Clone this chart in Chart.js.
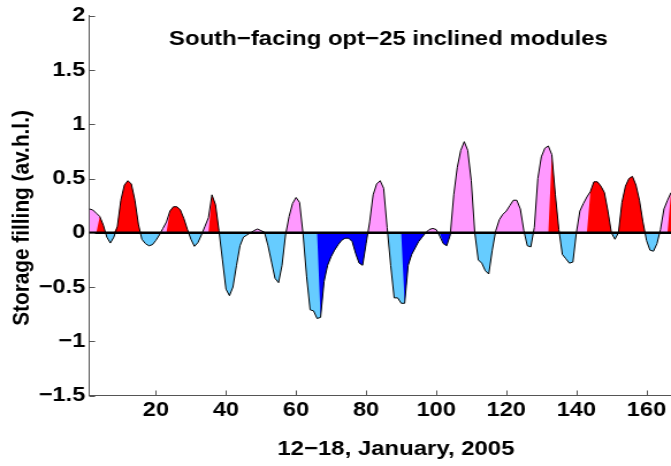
<!DOCTYPE html>
<html>
<head>
<meta charset="utf-8">
<script src="https://cdn.jsdelivr.net/npm/chart.js@4.4.1/dist/chart.umd.min.js"></script>
<style>
  html, body { margin: 0; padding: 0; background: #fff; overflow: hidden; }
  #wrap { width: 671px; height: 466px; overflow: hidden; }
  /* the reference figure is stretched sideways, so the canvas is too */
  #chart { transform: scaleX(1.1509); transform-origin: 0 0; }
</style>
</head>
<body>
<div id="wrap"><canvas id="chart" width="583" height="466"></canvas></div>
<script>
// hourly storage filling, 12-18 January 2005 (hour 1..168)
const storage = [
  0.22, 0.21, 0.18, 0.15, 0.07, -0.04, -0.095, -0.04, 0.06, 0.30,
  0.44, 0.48, 0.45, 0.30, 0.08, -0.06, -0.10, -0.12, -0.11, -0.07,
  -0.02, 0.04, 0.10, 0.20, 0.24, 0.24, 0.21, 0.13, 0.03, -0.06,
  -0.125, -0.09, -0.02, 0.06, 0.14, 0.35, 0.26, 0.02, -0.25, -0.52,
  -0.58, -0.50, -0.30, -0.12, -0.04, -0.02, 0.00, 0.02, 0.035, 0.02,
  0.005, -0.12, -0.27, -0.42, -0.46, -0.30, -0.02, 0.15, 0.27, 0.325,
  0.28, -0.01, -0.40, -0.71, -0.72, -0.79, -0.78, -0.45, -0.30, -0.22,
  -0.16, -0.11, -0.07, -0.05, -0.05, -0.08, -0.19, -0.28, -0.30, -0.10,
  0.10, 0.35, 0.45, 0.48, 0.41, 0.05, -0.30, -0.60, -0.60, -0.65,
  -0.65, -0.30, -0.20, -0.14, -0.08, -0.04, 0.00, 0.03, 0.04, 0.03,
  -0.03, -0.10, -0.12, -0.02, 0.35, 0.60, 0.76, 0.84, 0.76, 0.48,
  0.00, -0.25, -0.28, -0.35, -0.38, -0.16, 0.02, 0.12, 0.17, 0.20,
  0.25, 0.30, 0.30, 0.22, 0.02, -0.12, -0.13, 0.05, 0.50, 0.70,
  0.78, 0.80, 0.72, 0.35, 0.03, -0.20, -0.24, -0.28, -0.27, 0.00,
  0.20, 0.27, 0.33, 0.38, 0.47, 0.47, 0.43, 0.37, 0.20, 0.00,
  -0.06, 0.00, 0.28, 0.43, 0.50, 0.52, 0.44, 0.30, 0.10, -0.07,
  -0.16, -0.17, -0.10, 0.03, 0.22, 0.30, 0.37, 0.40
];
// hour spans drawn red (charging) and dark blue (discharging)
const redSpans = [[4, 6], [9, 16], [24, 30], [36, 39], [133, 136], [144, 150], [152, 160], [167, 168]];
const blueSpans = [[67, 81], [91, 98], [102, 105]];
const xTicks = [20, 40, 60, 80, 100, 120, 140, 160];
const yTicks = [-1.5, -1, -0.5, 0, 0.5, 1, 1.5, 2];
const chartTitle = 'South\u2212facing opt\u221225 inclined modules';
const xTitle = '12\u221218, January, 2005';
const yTitle = 'Storage filling (av.h.l.)';

const axisColor = '#555';
const font = { family: '"Liberation Sans", Arial, sans-serif', size: 20.5, weight: 'bold' };

const points = storage.map((v, i) => ({ x: i + 1, y: v }));
const inSpans = (h, spans) => spans.some(([a, b]) => h >= a && h <= b);
const redPart = points.map(p => ({ x: p.x, y: inSpans(p.x, redSpans) ? p.y : 0 }));
const bluePart = points.map(p => ({ x: p.x, y: inSpans(p.x, blueSpans) ? p.y : 0 }));

const decorations = {
  id: 'decorations',
  afterDatasetsDraw(chart) {
    const { ctx, chartArea, scales: { x, y } } = chart;
    ctx.save();
    // thick zero line
    const y0 = y.getPixelForValue(0);
    ctx.strokeStyle = '#000';
    ctx.lineWidth = 2.5;
    ctx.beginPath();
    ctx.moveTo(chartArea.left, y0);
    ctx.lineTo(chartArea.right, y0);
    ctx.stroke();
    // inward tick marks
    ctx.strokeStyle = axisColor;
    ctx.lineWidth = 1;
    ctx.beginPath();
    xTicks.forEach(v => {
      const px = Math.round(x.getPixelForValue(v)) + 0.5;
      ctx.moveTo(px, chartArea.bottom);
      ctx.lineTo(px, chartArea.bottom - 5);
    });
    yTicks.forEach(v => {
      const py = Math.round(y.getPixelForValue(v)) + 0.5;
      ctx.moveTo(chartArea.left, py);
      ctx.lineTo(chartArea.left + 5, py);
    });
    ctx.stroke();
    // titles
    ctx.fillStyle = '#000';
    ctx.font = 'bold 20.8px "Liberation Sans", Arial, sans-serif';
    ctx.textAlign = 'center';
    ctx.textBaseline = 'alphabetic';
    ctx.fillText(chartTitle, 337.5, 45);
    ctx.fillText(xTitle, 344, 455);
    ctx.translate(25, 218);
    ctx.rotate(-Math.PI / 2);
    ctx.fillText(yTitle, 0, 0);
    ctx.restore();
  }
};

new Chart(document.getElementById('chart'), {
  type: 'line',
  data: {
    datasets: [
      { data: points, borderColor: '#000', borderWidth: 1, pointRadius: 0, fill: false },
      { data: redPart, borderColor: 'rgba(0,0,0,0)', borderWidth: 0, pointRadius: 0,
        fill: { target: 'origin', above: '#ff0000', below: 'rgba(0,0,0,0)' } },
      { data: bluePart, borderColor: 'rgba(0,0,0,0)', borderWidth: 0, pointRadius: 0,
        fill: { target: 'origin', above: 'rgba(0,0,0,0)', below: '#0000ff' } },
      { data: points, borderColor: 'rgba(0,0,0,0)', borderWidth: 0, pointRadius: 0,
        fill: { target: 'origin', above: '#ff99ff', below: '#66ccff' } }
    ]
  },
  options: {
    responsive: false,
    animation: false,
    events: [],
    layout: { padding: { top: 15, right: 0, bottom: 0, left: 0 } },
    elements: { line: { tension: 0 } },
    plugins: { legend: { display: false }, tooltip: { enabled: false } },
    scales: {
      x: {
        type: 'linear',
        min: 1,
        max: 167,
        grid: { display: false, drawTicks: false },
        border: { color: axisColor, width: 1 },
        afterBuildTicks: s => { s.ticks = xTicks.map(value => ({ value })); },
        afterFit: s => { s.height = 70.5; },
        ticks: { font, color: '#000', padding: 3, maxRotation: 0, autoSkip: false }
      },
      y: {
        type: 'linear',
        min: -1.5,
        max: 2,
        grid: { display: false, drawTicks: false },
        border: { color: axisColor, width: 1 },
        afterBuildTicks: s => { s.ticks = yTicks.map(value => ({ value })); },
        afterFit: s => { s.width = 77.6; },
        ticks: { font, color: '#000', padding: 3.5, callback: v => String(v).replace('-', '\u2212') }
      }
    }
  },
  plugins: [decorations]
});
</script>
</body>
</html>
